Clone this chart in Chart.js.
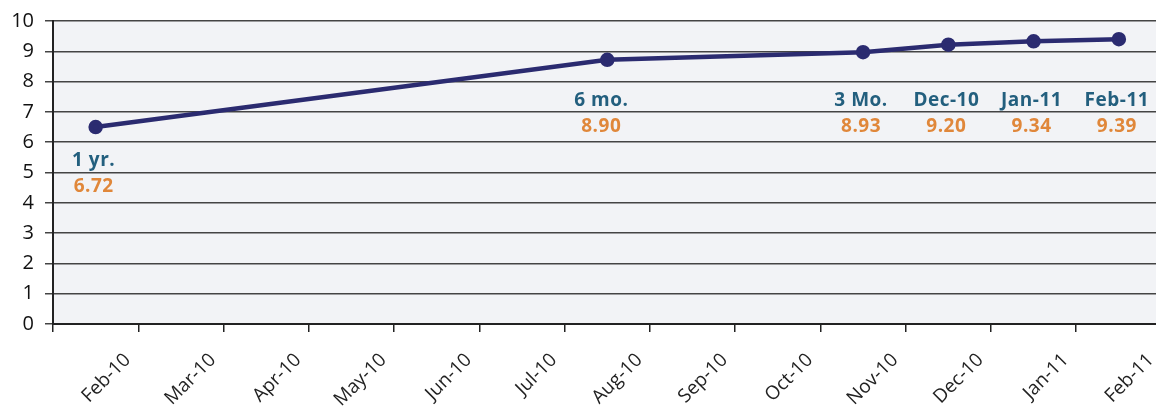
<!DOCTYPE html>
<html>
<head>
<meta charset="utf-8">
<script src="https://cdn.jsdelivr.net/npm/chart.js@4.4.1/dist/chart.umd.min.js"></script>
<style>
  html, body { margin: 0; padding: 0; background: #fff; overflow: hidden; }
  #wrap { position: relative; width: 1171px; height: 409px; }
</style>
</head>
<body>
<div id="wrap"><canvas id="myChart"></canvas></div>
<script>
// x categories (one per month)
var months = ['Feb-10', 'Mar-10', 'Apr-10', 'May-10', 'Jun-10', 'Jul-10', 'Aug-10',
  'Sep-10', 'Oct-10', 'Nov-10', 'Dec-10', 'Jan-11', 'Feb-11'];
// plotted rate, only where a reading exists
var rates = [6.5, null, null, null, null, null, 8.72, null, null, 8.97, 9.22, 9.33, 9.4];
// callout text over the points
var calloutNames = ['1 yr.', null, null, null, null, null, '6 mo.', null, null, '3 Mo.', 'Dec-10', 'Jan-11', 'Feb-11'];
var calloutValues = ['6.72', null, null, null, null, null, '8.90', null, null, '8.93', '9.20', '9.34', '9.39'];
var yTicks = [0, 1, 2, 3, 4, 5, 6, 7, 8, 9, 10];

var plotBg = {
  id: 'plotBg',
  beforeDraw: function (chart) {
    var a = chart.chartArea, c = chart.ctx;
    c.save();
    c.fillStyle = '#f2f3f6';
    c.fillRect(a.left, a.top, a.right - a.left, a.bottom - a.top);
    c.restore();
  }
};

// text boxes under the points
var callouts = {
  id: 'callouts',
  afterDatasetsDraw: function (chart) {
    var c = chart.ctx, xs = chart.scales.x, ys = chart.scales.y;
    c.save();
    c.textAlign = 'center';
    c.textBaseline = 'middle';
    c.font = 'bold 19px "Open Sans"';
    c.letterSpacing = '0.5px';
    for (var i = 0; i < months.length; i++) {
      if (!calloutNames[i]) continue;
      var x = xs.getPixelForValue(i) - (i === 6 ? 6 : 2);
      var y1 = i === 0 ? ys.getPixelForValue(5.4) : ys.getPixelForValue(7.38);
      c.fillStyle = '#235f7e';
      c.fillText(calloutNames[i], x, y1);
      c.fillStyle = '#e0873a';
      c.fillText(calloutValues[i], x, y1 + 26);
    }
    c.restore();
  }
};

var ctx = document.getElementById('myChart').getContext('2d');
var chart = new Chart(ctx, {
  type: 'line',
  data: {
    labels: months,
    datasets: [{
      data: rates,
      borderColor: '#2b2b70',
      backgroundColor: '#2b2b70',
      borderWidth: 4.5,
      pointRadius: 5,
      pointHoverRadius: 5,
      spanGaps: true,
      tension: 0
    }]
  },
  options: {
    responsive: true,
    maintainAspectRatio: false,
    animation: false,
    layout: { padding: { top: 13, right: 0, left: 0, bottom: 0 } },
    plugins: { legend: { display: false }, tooltip: { enabled: false } },
    scales: {
      x: {
        offset: true,
        grid: { offset: true, drawOnChartArea: false, drawTicks: true, tickLength: 8, color: '#222', lineWidth: 1.5 },
        border: { color: '#222', width: 2 },
        ticks: {
          color: '#222', font: { family: 'Open Sans', size: 19 },
          minRotation: 45, maxRotation: 45, autoSkip: false, labelOffset: 32, padding: 17
        },
        afterFit: function (s) { s.height = 85; }
      },
      y: {
        min: 0, max: 10,
        afterBuildTicks: function (s) { s.ticks = yTicks.map(function (v) { return { value: v }; }); },
        grid: { color: '#444', lineWidth: 1.5, tickLength: 8 },
        border: { color: '#222', width: 2 },
        ticks: { color: '#111', font: { family: 'Open Sans', size: 20, lineHeight: 1 }, padding: 11 },
        afterFit: function (s) { s.width = 53; }
      }
    }
  },
  plugins: [plotBg, callouts]
});
</script>
</body>
</html>
